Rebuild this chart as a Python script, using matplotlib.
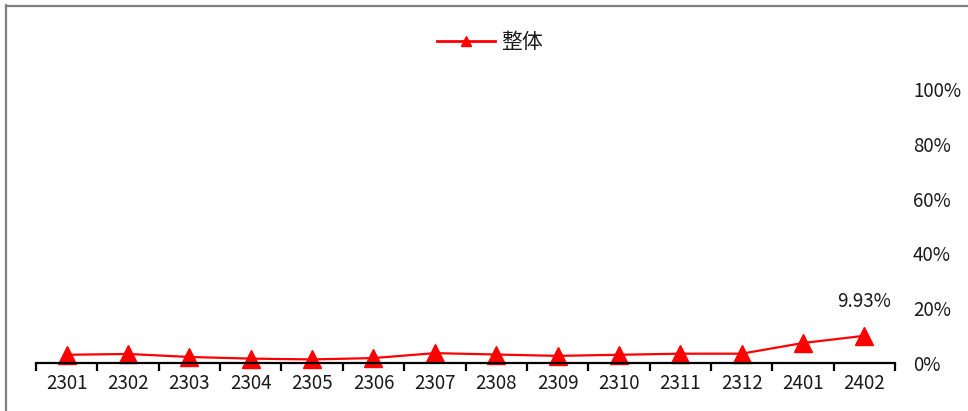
import matplotlib
matplotlib.use("Agg")
import matplotlib.pyplot as plt
from matplotlib.lines import Line2D
from matplotlib.ticker import FixedLocator, FuncFormatter

plt.rcParams['font.family'] = ['Noto Sans CJK SC', 'DejaVu Sans']

# Monthly series
months = ["2301", "2302", "2303", "2304", "2305", "2306", "2307",
          "2308", "2309", "2310", "2311", "2312", "2401", "2402"]
overall = [3.0, 3.3, 2.2, 1.6, 1.3, 1.8, 3.6,
           3.1, 2.6, 3.0, 3.4, 3.4, 7.3, 9.93]
series_name = "整体"
y_ticks = [0, 20, 40, 60, 80, 100]

W, H = 968, 411
fig = plt.figure(figsize=(W / 100, H / 100), dpi=100)
fig.patch.set_facecolor("white")

ax = fig.add_axes([36 / W, (H - 363) / H, 859 / W, (363 - 89) / H])
x = list(range(len(months)))
ax.plot(x, overall, color="#FF0000", lw=1.6, marker="^", ms=13,
        markerfacecolor="#FF0000", markeredgecolor="#FF0000", clip_on=False)

ax.set_xlim(-0.5, len(months) - 0.5)
ax.set_ylim(0, 100)

for s in ["left", "right", "top"]:
    ax.spines[s].set_visible(False)
ax.spines["bottom"].set_linewidth(1.6)
ax.spines["bottom"].set_color("black")

# x axis: ticks on category boundaries, labels at centres
ax.xaxis.set_major_locator(FixedLocator([i - 0.5 for i in range(len(months) + 1)]))
ax.xaxis.set_major_formatter(FuncFormatter(lambda v, p: ""))
ax.set_xticks(x, months, minor=True)
ax.tick_params(axis="x", which="major", direction="out", length=6, width=1.6, color="black")
ax.tick_params(axis="x", which="minor", length=0, pad=7, labelsize=13.5, labelcolor="#1a1a1a")

# y axis labels on the right, no ticks
ax.yaxis.tick_right()
ax.set_yticks(y_ticks, [f"{v}%" for v in y_ticks])
ax.tick_params(axis="y", length=0, pad=13, labelsize=13.5, labelcolor="#1a1a1a")

# value label on the last point
ax.annotate(f"{overall[-1]:.2f}%", xy=(x[-1], overall[-1]), xytext=(0, 17),
            textcoords="offset points", ha="center", va="bottom", fontsize=13.5,
            color="#1a1a1a")

# legend at top centre
handle = Line2D([], [], color="#FF0000", lw=2, marker="^", ms=7)
fig.legend([handle], [series_name], loc="center", bbox_to_anchor=(490 / W, 1 - 42 / H),
           frameon=False, fontsize=15, handlelength=2.8, handletextpad=0.3,
           labelcolor="#1a1a1a")

# frame lines along the left and top edges
fig.add_artist(Line2D([6 / W, 6 / W], [0, 1 - 5 / H], transform=fig.transFigure,
                      color="#808080", lw=1.6))
fig.add_artist(Line2D([6 / W, 1], [1 - 6 / H, 1 - 6 / H], transform=fig.transFigure,
                      color="#808080", lw=1.6))

fig.savefig("out.png", dpi=100)
